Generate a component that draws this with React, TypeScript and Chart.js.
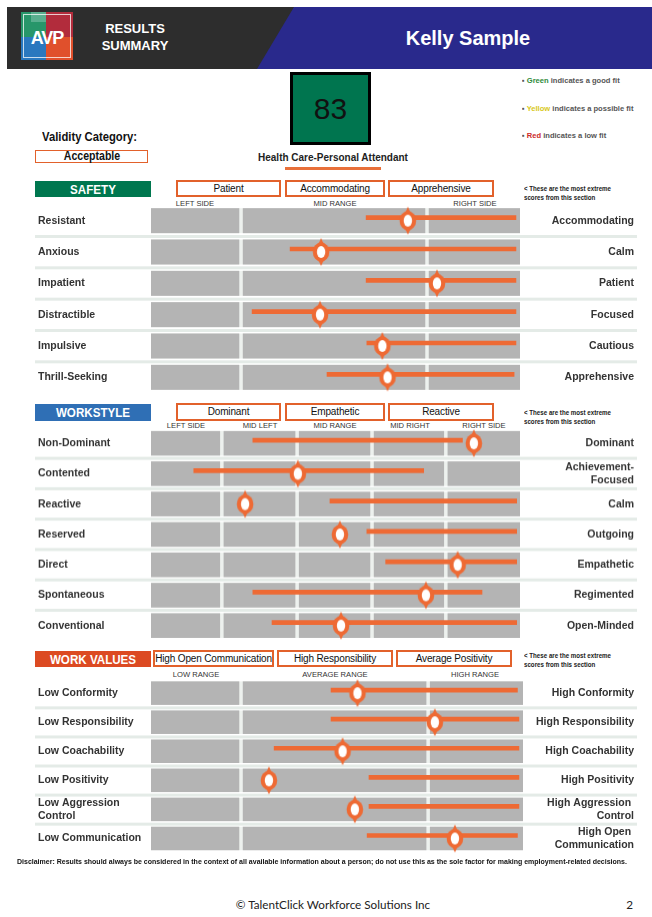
import React, { useEffect, useRef } from 'react';
import { Chart, registerables } from 'chart.js';
Chart.register(...registerables);

const NARROW = "'Liberation Sans Narrow', 'Arial Narrow', 'Liberation Sans', Arial, sans-serif";
const SANS = "'Liberation Sans', Arial, sans-serif";
const ORANGE = '#ee6a34';
const BORDER = '#e2612b';
const CELL = '#b4b4b4';
const GAP = '#edf1ee';
const BAND = '#e4ebe7';

// ---------- data ----------
const safetyLeft = ['Resistant', 'Anxious', 'Impatient', 'Distractible', 'Impulsive', 'Thrill-Seeking'];
const safetyRight = ['Accommodating', 'Calm', 'Patient', 'Focused', 'Cautious', 'Apprehensive'];
const safetyLow = [58.3, 37.7, 58.3, 27.4, 58.5, 47.7];
const safetyHigh = [98.9, 98.9, 98.9, 98.9, 98.9, 98.4];
const safetyScore = [69.6, 46.1, 77.5, 45.8, 62.7, 64.1];
const safetyZones = [0, 24.4, 74.8, 100];
const safetyColumns = ['LEFT SIDE', 'MID RANGE', 'RIGHT SIDE'];
const safetyExtremes = ['Patient', 'Accommodating', 'Apprehensive'];

const workLeft = ['Non-Dominant', 'Contented', 'Reactive', 'Reserved', 'Direct', 'Spontaneous', 'Conventional'];
const workRight = ['Dominant', 'Achievement-\nFocused', 'Calm', 'Outgoing', 'Empathetic', 'Regimented', 'Open-Minded'];
const workLow = [27.6, 11.6, 48.5, 58.5, 63.6, 27.6, 32.8];
const workHigh = [84.4, 73.9, 99.1, 99.1, 99.1, 89.7, 99.1];
const workScore = [87.5, 39.8, 25.5, 51.2, 83.1, 74.5, 51.5];
const workZones = [0, 19.2, 39.6, 59.9, 79.9, 100];
const workColumns = ['LEFT SIDE', 'MID LEFT', 'MID RANGE', 'MID RIGHT', 'RIGHT SIDE'];
const workExtremes = ['Dominant', 'Empathetic', 'Reactive'];

const valuesLeft = ['Low Conformity', 'Low Responsibility', 'Low Coachability', 'Low Positivity', 'Low Aggression\nControl', 'Low Communication'];
const valuesRight = ['High Conformity', 'High Responsibility', 'High Coachability', 'High Positivity', 'High Aggression \nControl', 'High Open \nCommunication'];
const valuesLow = [48.4, 48.4, 33.1, 58.6, 58.6, 58.1];
const valuesHigh = [98.5, 98.9, 98.9, 98.9, 98.9, 98.5];
const valuesScore = [55.5, 76.3, 51.5, 31.7, 54.8, 81.7];
const valuesZones = [0, 24.2, 74.5, 100];
const valuesColumns = ['LOW RANGE', 'AVERAGE RANGE', 'HIGH RANGE'];
const valuesExtremes = ['High Open Communication', 'High Responsibility', 'Average Positivity'];

const fitScore = 83;

// ---------- marker ----------
let markerCanvas: HTMLCanvasElement | null = null;
function getMarker() {
  if (markerCanvas) return markerCanvas;
  const c = document.createElement('canvas');
  c.width = 20;
  c.height = 40;
  const g = c.getContext('2d')!;
  const cx = 10, cy = 23;
  g.fillStyle = ORANGE;
  g.beginPath();
  g.ellipse(cx, cy, 8.3, 9.4, 0, 0, Math.PI * 2);
  g.fill();
  g.beginPath();
  g.moveTo(cx - 4.5, cy - 7);
  g.quadraticCurveTo(cx - 1, cy - 10, cx, cy - 14);
  g.quadraticCurveTo(cx + 1, cy - 10, cx + 4.5, cy - 7);
  g.closePath();
  g.fill();
  g.beginPath();
  g.moveTo(cx - 4.5, cy + 7);
  g.quadraticCurveTo(cx - 1, cy + 10, cx, cy + 14);
  g.quadraticCurveTo(cx + 1, cy + 10, cx + 4.5, cy + 7);
  g.closePath();
  g.fill();
  g.fillStyle = '#ffffff';
  g.beginPath();
  g.ellipse(cx, cy, 4.2, 6, 0, 0, Math.PI * 2);
  g.fill();
  markerCanvas = c;
  return c;
}

// ---------- plugin: gray cells and row bands ----------
const rowCells = {
  id: 'rowCells',
  beforeDatasetsDraw(chart: any, _args: any, opts: any) {
    const { ctx } = chart;
    const x = chart.scales.x;
    const y = chart.scales.y;
    const n = y.getLabels().length;
    const { zones, cellH, pitch, shift, gap } = opts;
    ctx.save();
    for (let i = 0; i < n; i++) {
      const cy = y.getPixelForValue(i) + shift;
      const top = cy - cellH / 2;
      ctx.fillStyle = GAP;
      ctx.fillRect(x.left, top, x.right - x.left, cellH);
      ctx.fillStyle = CELL;
      for (let z = 0; z < zones.length - 1; z++) {
        const a = x.getPixelForValue(zones[z]) + (z > 0 ? gap / 2 : 0);
        const b = x.getPixelForValue(zones[z + 1]) - (z < zones.length - 2 ? gap / 2 : 0);
        ctx.fillRect(a, top, b - a, cellH);
      }
      if (i < n - 1) {
        ctx.fillStyle = BAND;
        const nextTop = cy + pitch - cellH / 2;
        ctx.fillRect(0, nextTop - 4.5, chart.width, 3);
      }
    }
    ctx.restore();
  },
};

type RowProps = {
  left: string[];
  right: string[];
  low: number[];
  high: number[];
  score: number[];
  zones: number[];
  areaTop: number;
  pitch: number;
  cellH: number;
  panelRight: number;
};

function RowChart(p: RowProps) {
  const ref = useRef<HTMLCanvasElement>(null);
  const PAD = 10;
  const n = p.left.length;
  const h = n * p.pitch + 2 * PAD;
  useEffect(() => {
    const tickFont = { family: NARROW, size: 10.5, weight: 'bold' as const, lineHeight: 1.2 };
    const chart = new Chart(ref.current!, {
      type: 'bar',
      data: {
        labels: p.left,
        datasets: [
          {
            type: 'bar',
            order: 2,
            data: p.low.map((l, i) => [l, p.high[i]]),
            backgroundColor: ORANGE,
            barThickness: 4,
            grouped: false,
            borderWidth: 0,
            borderSkipped: false,
            xAxisID: 'x',
            yAxisID: 'y',
          } as any,
          {
            type: 'scatter',
            order: 1,
            data: p.score.map((v, i) => ({ x: v, y: i })),
            pointStyle: getMarker(),
            radius: 9,
            hoverRadius: 9,
            clip: false,
            xAxisID: 'x',
            yAxisID: 'y',
          } as any,
        ],
      },
      options: {
        indexAxis: 'y',
        animation: false,
        responsive: true,
        maintainAspectRatio: false,
        events: [],
        layout: { padding: { left: 3, right: 3, top: PAD, bottom: PAD } },
        plugins: {
          legend: { display: false },
          tooltip: { enabled: false },
          rowCells: { zones: p.zones, cellH: p.cellH, pitch: p.pitch, shift: 3, gap: 3.5 },
        } as any,
        scales: {
          x: { type: 'linear', min: 0, max: 100, offset: false, display: false },
          y: {
            type: 'category',
            position: 'left',
            offset: true,
            grid: { display: false },
            border: { display: false },
            afterFit: (s: any) => { s.width = 113; },
            ticks: {
              crossAlign: 'far',
              labelOffset: 3,
              padding: 0,
              autoSkip: false,
              color: '#333333',
              font: tickFont,
              callback: (_v: any, i: number) => p.left[i].split('\n'),
            },
          },
          y2: {
            type: 'category',
            position: 'right',
            labels: p.right,
            offset: true,
            grid: { display: false },
            border: { display: false },
            afterFit: (s: any) => { s.width = 634 - p.panelRight; },
            ticks: {
              crossAlign: 'far',
              labelOffset: 3,
              padding: 0,
              autoSkip: false,
              color: '#333333',
              font: tickFont,
              callback: (_v: any, i: number) => p.right[i].split('\n'),
            },
          },
        } as any,
      },
      plugins: [rowCells as any],
    });
    return () => chart.destroy();
  }, []);
  return (
    <div style={{ position: 'absolute', left: 35, top: p.areaTop - PAD, width: 602, height: h }}>
      <canvas ref={ref} />
    </div>
  );
}

// ---------- text helpers ----------
type TP = {
  x: number; y: number; text: React.ReactNode; size: number; bold?: boolean; color?: string;
  align?: 'left' | 'center' | 'right'; font?: string; w?: number; sx?: number;
};
function T({ x, y, text, size, bold, color = '#222', align = 'left', font = SANS, w = 300, sx = 1 }: TP) {
  const lh = Math.ceil(size * 1.4);
  let left = x;
  if (align === 'center') left = x - w / 2;
  if (align === 'right') left = x - w;
  const origin = align === 'center' ? 'center' : align === 'right' ? 'right' : 'left';
  return (
    <div style={{
      position: 'absolute', left, top: y - lh / 2, width: w, height: lh, lineHeight: lh + 'px',
      fontSize: size, fontFamily: font, fontWeight: bold ? 700 : 400, color, textAlign: align,
      whiteSpace: 'nowrap', transform: sx !== 1 ? `scaleX(${sx})` : undefined, transformOrigin: origin,
    }}>{text}</div>
  );
}

function OBox({ x0, x1, y0, y1, text }: { x0: number; x1: number; y0: number; y1: number; text: string }) {
  return (
    <div style={{
      position: 'absolute', left: x0, top: y0, width: x1 - x0, height: y1 - y0, boxSizing: 'border-box',
      border: `2px solid ${BORDER}`, background: '#fff', fontFamily: SANS, fontSize: 10, color: '#111',
      textAlign: 'center', lineHeight: (y1 - y0 - 4) + 'px', whiteSpace: 'nowrap', overflow: 'visible',
      letterSpacing: -0.15,
    }}>{text}</div>
  );
}

function SectionHead({ title, color, ty0, ty1, boxes, extremes, colY, colX, columns, noteY }: {
  title: string; color: string; ty0: number; ty1: number; boxes: [number, number][]; extremes: string[];
  colY: number; colX: number[]; columns: string[]; noteY: number;
}) {
  return (
    <>
      <div style={{
        position: 'absolute', left: 35, top: ty0, width: 116, height: ty1 - ty0, background: color,
      }} />
      <T x={93} y={(ty0 + ty1) / 2} text={title} size={13.5} bold color="#fff" align="center" w={116} sx={0.86} font={NARROW} />
      {boxes.map((b, i) => (
        <OBox key={i} x0={b[0]} x1={b[1]} y0={ty0 - 1} y1={ty1} text={extremes[i]} />
      ))}
      {columns.map((c, i) => (
        <T key={c} x={colX[i]} y={colY} text={c} size={7.6} align="center" w={80} color="#333" />
      ))}
      <T x={524} y={noteY} text="< These are the most extreme" size={6.5} bold color="#222" sx={0.95} />
      <T x={524} y={noteY + 9} text="scores from this section" size={6.5} bold color="#222" sx={0.95} />
    </>
  );
}

export default function App() {
  useEffect(() => {
    document.body.style.margin = '0';
  }, []);
  return (
    <div style={{ position: 'absolute', left: 0, top: 0, width: 652, height: 917, background: '#fff', overflow: 'hidden' }}>
      {/* header */}
      <div style={{ position: 'absolute', left: 7, top: 7, width: 645, height: 62, background: '#2d2d2d' }} />
      <div style={{
        position: 'absolute', left: 0, top: 7, width: 652, height: 62, background: '#29298c',
        clipPath: 'polygon(294px 0, 652px 0, 652px 62px, 257px 62px)',
      }} />
      <div style={{ position: 'absolute', left: 21, top: 12, width: 52, height: 48 }}>
        <div style={{ position: 'absolute', left: 0, top: 0, width: 25, height: 25, background: '#27966a' }} />
        <div style={{ position: 'absolute', left: 10, top: 0, width: 15, height: 10, background: '#6fb9a0', opacity: 0.7 }} />
        <div style={{ position: 'absolute', left: 25, top: 0, width: 27, height: 25, background: '#b22c3c' }} />
        <div style={{ position: 'absolute', left: 0, top: 25, width: 25, height: 23, background: '#2a78bf' }} />
        <div style={{ position: 'absolute', left: 25, top: 25, width: 27, height: 23, background: '#e0502c' }} />
        <div style={{ position: 'absolute', left: 2, top: 2, width: 48, height: 44, boxSizing: 'border-box', border: '1px solid rgba(255,255,255,0.75)' }} />
        <div style={{
          position: 'absolute', left: 0, top: 15, width: 52, height: 22, lineHeight: '22px', textAlign: 'center',
          color: '#fff', fontFamily: SANS, fontWeight: 700, fontSize: 18, letterSpacing: -1,
        }}>AVP</div>
      </div>
      <T x={135} y={28} text="RESULTS" size={13} bold color="#fff" align="center" w={120} />
      <T x={135} y={45} text="SUMMARY" size={13} bold color="#fff" align="center" w={120} />
      <T x={468} y={38} text="Kelly Sample" size={20} bold color="#fff" align="center" w={300} />

      {/* score box */}
      <div style={{
        position: 'absolute', left: 290, top: 72, width: 81, height: 73, boxSizing: 'border-box',
        border: '3px solid #000', background: '#00754f', textAlign: 'center', fontFamily: SANS,
        fontSize: 30, color: '#111', lineHeight: '67px',
      }}>{fitScore}</div>
      <T x={333} y={157} text="Health Care-Personal Attendant" size={10.5} bold color="#222" align="center" w={240} sx={0.95} />
      <div style={{ position: 'absolute', left: 285, top: 167, width: 96, height: 3, background: '#e8703a' }} />

      <T x={42} y={137} text="Validity Category:" size={12.8} bold color="#111" sx={0.88} />
      <div style={{
        position: 'absolute', left: 35, top: 150, width: 113, height: 13, boxSizing: 'border-box',
        border: `1.5px solid ${BORDER}`,
      }} />
      <T x={91.5} y={156} text="Acceptable" size={12} bold color="#111" align="center" w={110} sx={0.88} />

      <T x={522} y={80} size={7.8} bold color="#555" sx={0.97} text={<><span>▪ </span><span style={{ color: '#2e8b3a' }}>Green</span> indicates a good fit</>} />
      <T x={522} y={108} size={7.8} bold color="#555" sx={0.97} text={<><span>▪ </span><span style={{ color: '#d8c81a' }}>Yellow</span> indicates a possible fit</>} />
      <T x={522} y={135} size={7.8} bold color="#555" sx={0.97} text={<><span>▪ </span><span style={{ color: '#cc2a2a' }}>Red</span> indicates a low fit</>} />

      {/* SAFETY */}
      <SectionHead title="SAFETY" color="#00774f" ty0={181} ty1={197}
        boxes={[[176, 281], [285, 385], [388, 494]]} extremes={safetyExtremes}
        colY={203} colX={[195, 335, 475]} columns={safetyColumns} noteY={189} />
      <RowChart left={safetyLeft} right={safetyRight} low={safetyLow} high={safetyHigh} score={safetyScore}
        zones={safetyZones} areaTop={202} pitch={31.33} cellH={25} panelRight={520} />

      {/* WORKSTYLE */}
      <SectionHead title="WORKSTYLE" color="#2f6fb5" ty0={404} ty1={421}
        boxes={[[176, 281], [285, 385], [388, 494]]} extremes={workExtremes}
        colY={425} colX={[186, 260, 335, 410, 484]} columns={workColumns} noteY={413} />
      <RowChart left={workLeft} right={workRight} low={workLow} high={workHigh} score={workScore}
        zones={workZones} areaTop={425.4} pitch={30.25} cellH={24.5} panelRight={520} />

      {/* WORK VALUES */}
      <SectionHead title="WORK VALUES" color="#dc4a22" ty0={651} ty1={667}
        boxes={[[153, 274], [277, 393], [396, 512]]} extremes={valuesExtremes}
        colY={674} colX={[196, 335, 475]} columns={valuesColumns} noteY={656} />
      <RowChart left={valuesLeft} right={valuesRight} low={valuesLow} high={valuesHigh} score={valuesScore}
        zones={valuesZones} areaTop={672.75} pitch={29.5} cellH={23.5} panelRight={523} />

      {/* disclaimer & footer */}
      <T x={17} y={862} size={7} bold color="#111" w={640}
        text={<><span>Disclaimer:</span><span> Results should always be considered in the context of all available information about a person; do not use this as the sole factor for making employment-related decisions.</span></>} />
      <T x={333} y={904} size={11.7} text="© TalentClick Workforce Solutions Inc" color="#222" align="center" w={300} font="Lato, 'Open Sans', sans-serif" />
      <T x={633} y={904} size={11.7} text="2" color="#222" align="right" w={20} font="Lato, 'Open Sans', sans-serif" />
    </div>
  );
}
